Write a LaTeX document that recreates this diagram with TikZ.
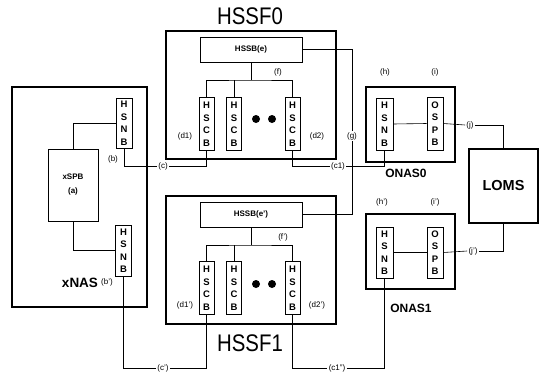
\documentclass[tikz,border=0pt]{standalone}
\usepackage{fontspec}
\setmainfont{Liberation Sans}
\begin{document}
\begin{tikzpicture}[x=1pt,y=-1pt,
  thickbox/.style={draw,line width=2.8pt,inner sep=0pt},
  thinbox/.style={draw,line width=0.7pt,inner sep=0pt,fill=white},
  vbox/.style={thinbox,minimum width=15pt,minimum height=53pt,align=center,
    font=\fontsize{9.5}{12.5}\selectfont\bfseries},
  lab/.style={inner sep=0.8pt,font=\fontsize{8}{8}\selectfont},
  onlab/.style={lab,fill=white,inner sep=1.2pt},
  big/.style={font=\fontsize{24}{24}\selectfont,xscale=0.85},
  conn/.style={line width=0.6pt},
  dot/.style={circle,fill=black,inner sep=0pt,minimum size=8pt}]
\useasboundingbox (0,0) rectangle (550,372);
\fill[white] (0,0) rectangle (550,372);
% frames
\node[thickbox,minimum width=135pt,minimum height=220pt] (xnas) at (79.5,197) {};
\node[thickbox,minimum width=170pt,minimum height=128pt] (hssf0) at (251,95) {};
\node[thickbox,minimum width=170pt,minimum height=128pt] (hssf1) at (251,260) {};
\node[thickbox,minimum width=89pt,minimum height=75pt] (onas0) at (410.5,124.5) {};
\node[thickbox,minimum width=89pt,minimum height=75pt] (onas1) at (410.5,251.5) {};
\node[thickbox,minimum width=69pt,minimum height=74pt,font=\fontsize{14.5}{15}\selectfont\bfseries] (loms) at (503.5,186) {LOMS};
% titles
\node[big] (t0) at (250,16) {HSSF0};
\node[big] (t1) at (250,343) {HSSF1};
\node[lab,font=\fontsize{13.5}{14}\selectfont\bfseries] (xnaslab) at (80,283) {xNAS};
\node[lab,font=\fontsize{12}{12}\selectfont\bfseries] (onas0lab) at (406,173) {ONAS0};
\node[lab,font=\fontsize{12}{12}\selectfont\bfseries] (onas1lab) at (411,308) {ONAS1};
% xNAS inner
\node[thinbox,minimum width=50pt,minimum height=72pt,align=center,font=\fontsize{8}{14}\selectfont\bfseries] (xspb) at (73,185) {xSPB\\(a)};
\node[vbox,minimum width=16pt,minimum height=50pt] (b) at (124,123) {H\\S\\N\\B};
\node[vbox,minimum width=16pt,minimum height=51pt] (bp) at (123.5,250.5) {H\\S\\N\\B};
\node[lab] (blab) at (113,159) {(b)};
\node[lab] (bplab) at (107,282) {(b')};
% HSSF0 inner
\node[thinbox,minimum width=102pt,minimum height=25pt,font=\fontsize{8}{8}\selectfont\bfseries] (e) at (251,49.5) {HSSB(e)};
\node[vbox] (d1) at (206.5,124) {H\\S\\C\\B};
\node[vbox] (d3) at (234,124) {H\\S\\C\\B};
\node[vbox] (d2) at (292.5,124) {H\\S\\C\\B};
\node[dot] (dot1) at (256,119) {};
\node[dot] (dot2) at (272,119) {};
\coordinate (busf) at (251,80);
\node[lab] (flab) at (278,72) {(f)};
\node[lab] (d1lab) at (185,136) {(d1)};
\node[lab] (d2lab) at (317,136) {(d2)};
% HSSF1 inner
\node[thinbox,minimum width=102pt,minimum height=25pt,font=\fontsize{8}{8}\selectfont\bfseries] (ep) at (251,214.5) {HSSB(e')};
\node[vbox] (d1p) at (206.5,288) {H\\S\\C\\B};
\node[vbox] (d3p) at (234,288) {H\\S\\C\\B};
\node[vbox] (d2p) at (292.5,288) {H\\S\\C\\B};
\node[dot] (dot3) at (256,284) {};
\node[dot] (dot4) at (272,284) {};
\coordinate (busfp) at (251,245);
\node[lab] (fplab) at (283,237) {(f')};
\node[lab] (d1plab) at (185,305) {(d1')};
\node[lab] (d2plab) at (317,305) {(d2')};
% ONAS inner
\node[vbox,minimum width=17pt,minimum height=52pt] (h) at (384.5,124) {H\\S\\N\\B};
\node[vbox,minimum width=16pt,minimum height=53pt] (i) at (435,123.5) {O\\S\\P\\B};
\node[vbox,minimum width=17pt,minimum height=51pt] (hp) at (384.5,252.5) {H\\S\\N\\B};
\node[vbox,minimum width=16pt,minimum height=51pt] (ip) at (435,252.5) {O\\S\\P\\B};
\node[lab] (hlab) at (385,72) {(h)};
\node[lab] (ilab) at (435,72) {(i)};
\node[lab] (hplab) at (382,202) {(h')};
\node[lab] (iplab) at (435,202) {(i')};
% line labels
\node[onlab] (lc) at (163,166) {(c)};
\node[onlab] (lc1) at (338,166) {(c1)};
\node[onlab] (lg) at (352,136) {(g)};
\node[onlab] (lj) at (470,125) {(j)};
\node[onlab] (ljp) at (473,251) {(j')};
\node[onlab] (lcp) at (163,368) {(c')};
\node[onlab] (lc1pp) at (337,368) {(c1'')};
% connectors
\begin{scope}[conn]
\draw (b.west) -| (xspb.north);
\draw (xspb.south) |- (bp.west);
\draw (b.south) |- (lc.west);
\draw (lc.east) -| (d1.south);
\draw (e.south) -- (busf);
\draw (d1.north) |- (busf) -| (d2.north);
\draw (d3.north) -- (d3.north |- busf);
\draw (d2.south) |- (lc1.west);
\draw (lc1.east) -| (h.south);
\draw (e.east) -| (lg.north);
\draw (lg.south) |- (ep.east);
\draw (ep.south) -- (busfp);
\draw (d1p.north) |- (busfp) -| (d2p.north);
\draw (d3p.north) -- (d3p.north |- busfp);
\draw (bp.south) |- (lcp.west);
\draw (lcp.east) -| (d1p.south);
\draw (d2p.south) |- (lc1pp.west);
\draw (lc1pp.east) -| (hp.south);
\draw (h.east) -- (i.west);
\draw (hp.east) -- (ip.west);
\draw (i.east) -- (lj.west);
\draw (lj.east) -| (loms.north);
\draw (ip.east) -- (ljp.west);
\draw (ljp.east) -| (loms.south);
\end{scope}
\end{tikzpicture}
\end{document}
